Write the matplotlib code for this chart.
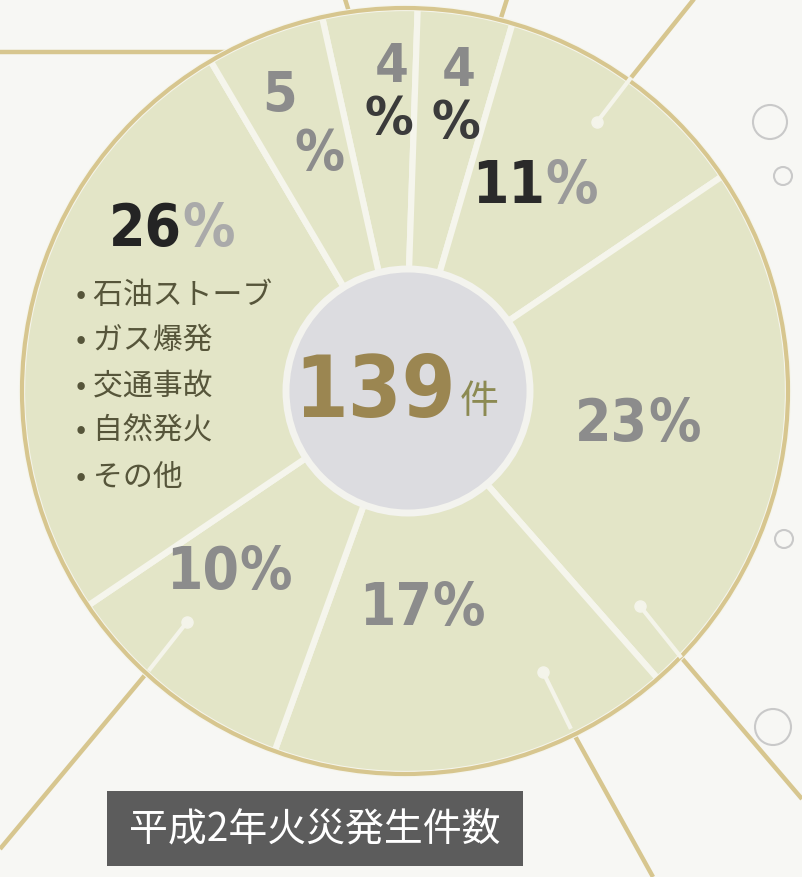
import matplotlib
matplotlib.use("Agg")
from matplotlib import pyplot as plt
from matplotlib.patches import Circle, Rectangle
import numpy as np

plt.rcParams['font.family'] = ['Noto Sans CJK JP', 'DejaVu Sans']

# 平成2年 火災発生件数の内訳（上から時計回り）
shares = [4, 4, 11, 23, 17, 10, 26, 5]
num_colors = ['#8a8a8a', '#8a8a8a', '#2a2a2a', '#8c8c8c', '#8c8c8c', '#8c8c8c', '#242424', '#8c8c8c']
pct_colors = ['#3b3b3b', '#3b3b3b', '#9a9a9a', '#8c8c8c', '#8c8c8c', '#8c8c8c', '#aaaaaa', '#8c8c8c']
other_items = ['石油ストーブ', 'ガス爆発', '交通事故', '自然発火', 'その他']
total = 139
unit = '件'
title = '平成2年火災発生件数'

W, H = 802, 878
NUM_FONT = ['DejaVu Sans Condensed', 'DejaVu Sans']


def Y(y):
    # 画像のピクセル座標（上から）を下からの座標へ
    return H - y


fig = plt.figure(figsize=(W / 100, H / 100), dpi=100)
fig.patch.set_facecolor('#f7f7f4')
ax = fig.add_axes([0, 0, 1, 1])

cx, cy, R = 405, Y(392), 383

# 飾りの線（外側）
tan = '#d7c68f'
for (x0, y0), (x1, y1) in [((0, 53), (238, 53)), ((345, 0), (350, 16)),
                           ((507, 0), (500, 22)), ((630, 80), (694, 0)),
                           ((680, 657), (802, 800)), ((570, 728), (653, 878)),
                           ((150, 670), (0, 850))]:
    ax.plot([x0, x1], [Y(y0), Y(y1)], color=tan, lw=3.2, solid_capstyle='butt', zorder=1)

wedges, _ = ax.pie(shares, radius=R, center=(cx, cy), startangle=102.5,
                   counterclock=False, colors=['#e3e5c7'] * len(shares),
                   wedgeprops=dict(edgecolor='#f5f5ec', linewidth=4.5))
for w in wedges:
    w.set_zorder(2)
ax.add_patch(Circle((cx, cy), R, fill=False, ec=tan, lw=3, zorder=3))

# 内側の白いリーダー線
for (x0, y0), (x1, y1) in [((597, 123), (630, 80)), ((640, 607), (680, 657)),
                           ((543, 673), (570, 728)), ((187, 623), (150, 670))]:
    ax.plot([x0, x1], [Y(y0), Y(y1)], color='#f4f4ea', lw=3, zorder=3)
    ax.plot([x0], [Y(y0)], 'o', color='#f4f4ea', ms=8, zorder=3)

# 中央の円
ax.add_patch(Circle((408, Y(392)), 122, fc='#dcdce0', ec='#f3f3ee', lw=5, zorder=4))
ax.text(456, Y(394), str(total), ha='right', va='center', fontsize=62,
        fontweight='bold', fontstretch='condensed', color='#9b8651',
        family=NUM_FONT, zorder=5)
ax.text(460, Y(402), unit, ha='left', va='center', fontsize=28,
        color='#8c8a52', zorder=5)

# パーセント表示
label_r = [0.78, 0.78, 0.65, 0.64, 0.57, 0.64, 0.72, 0.75]
label_shift = [2.4, 0.9, -1.8, 0.4, 3.6, 4.6, 23.4, 0.0]
label_mode = ['stack', 'stack', 'side', 'side', 'side', 'side', 'side', 'diag']
for i, w in enumerate(wedges):
    mid = np.deg2rad((w.theta1 + w.theta2) / 2 - label_shift[i])
    ax_x = cx + label_r[i] * R * np.cos(mid)
    ax_y = cy + label_r[i] * R * np.sin(mid)
    kw = dict(fontsize=42, fontweight='bold', fontstretch='condensed',
              family=NUM_FONT, zorder=5, textcoords='offset pixels', va='center')
    if label_mode[i] == 'side':
        ax.annotate(str(shares[i]), (ax_x, ax_y), xytext=(0, 0), ha='right',
                    color=num_colors[i], **kw)
        ax.annotate('%', (ax_x, ax_y), xytext=(0, 0), ha='left',
                    color=pct_colors[i], **kw)
    elif label_mode[i] == 'stack':
        kw['fontsize'] = 39
        ax.annotate(str(shares[i]), (ax_x, ax_y), xytext=(2, 27), ha='center',
                    color=num_colors[i], **kw)
        ax.annotate('%', (ax_x, ax_y), xytext=(-1, -26), ha='center',
                    color=pct_colors[i], **kw)
    else:
        kw['fontsize'] = 40
        ax.annotate(str(shares[i]), (ax_x, ax_y), xytext=(-20, 29), ha='center',
                    color=num_colors[i], **kw)
        ax.annotate('%', (ax_x, ax_y), xytext=(20, -29), ha='center',
                    color=pct_colors[i], **kw)

# 26% の内訳
for k, item in enumerate(other_items):
    ax.text(76, Y(295 + k * 45.5), '• ' + item, ha='left', va='center',
            fontsize=21.5, color='#56553a', zorder=5)

# バインダー穴
for (hx, hy, hr) in [(770, 123, 17), (783, 177, 9), (784, 540, 9), (773, 728, 18)]:
    ax.add_patch(Circle((hx, Y(hy)), hr, fill=False, ec='#c9c9c9', lw=1.5, zorder=1))

# タイトル
ax.add_patch(Rectangle((107, Y(867)), 416, 75, fc='#5c5c5c', ec='none', zorder=5))
ax.text(315, Y(830), title, ha='center', va='center', fontsize=28,
        color='white', zorder=6)

ax.set_xlim(0, W)
ax.set_ylim(0, H)
ax.set_aspect('equal')
ax.axis('off')
fig.savefig('out.png', dpi=100, facecolor=fig.get_facecolor())
